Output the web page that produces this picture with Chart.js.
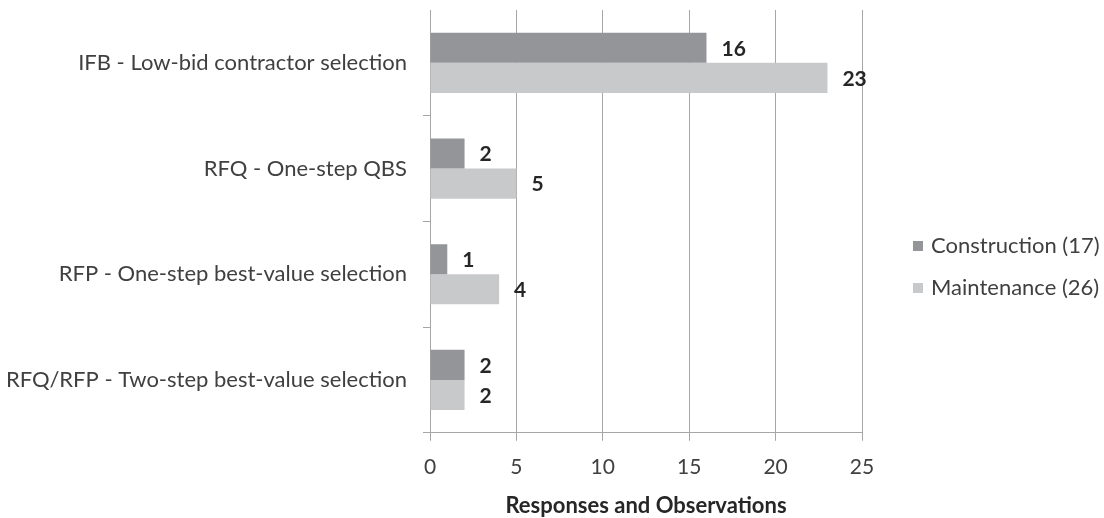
<!DOCTYPE html>
<html>
<head>
<meta charset="utf-8">
<script src="https://cdn.jsdelivr.net/npm/chart.js@4/dist/chart.umd.min.js"></script>
<style>
  html, body { margin: 0; padding: 0; background: #ffffff; }
  #wrap { width: 1104px; height: 518px; }
</style>
</head>
<body>
<div id="wrap"><canvas id="chart" width="1104" height="518"></canvas></div>
<script>
// Procurement methods and counts per project type
const categories = [
  'IFB - Low-bid contractor selection',
  'RFQ - One-step QBS',
  'RFP - One-step best-value selection',
  'RFQ/RFP - Two-step best-value selection'
];
const construction = [16, 2, 1, 2];
const maintenance = [23, 5, 4, 2];
const seriesNames = ['Construction (17)', 'Maintenance (26)'];
const seriesColors = ['#949598', '#c8c9cb'];
const xTicks = [0, 5, 10, 15, 20, 25];

const FONT = 'Lato, "Open Sans", sans-serif';
const TEXT = '#404040';
const GRID = '#a6a6a6';

// Writes each bar's value just past its end
const valueLabels = {
  id: 'valueLabels',
  afterDatasetsDraw(chart) {
    const ctx = chart.ctx;
    ctx.save();
    ctx.font = 'bold 21px ' + FONT;
    ctx.fillStyle = '#262626';
    ctx.textAlign = 'left';
    ctx.textBaseline = 'middle';
    chart.data.datasets.forEach((ds, i) => {
      chart.getDatasetMeta(i).data.forEach((bar, j) => {
        ctx.fillText(String(ds.data[j]), bar.x + 15, bar.y + 1);
      });
    });
    ctx.restore();
  }
};

// Series key to the right of the plot
const sideLegend = {
  id: 'sideLegend',
  afterDraw(chart) {
    const ctx = chart.ctx;
    const boxX = chart.chartArea.right + 51;
    const firstY = chart.height / 2 - 13;
    ctx.save();
    ctx.font = '22px ' + FONT;
    ctx.textAlign = 'left';
    ctx.textBaseline = 'middle';
    chart.data.datasets.forEach((ds, i) => {
      const y = firstY + i * 42;
      ctx.fillStyle = ds.backgroundColor;
      ctx.fillRect(boxX, y - 5, 10, 10);
      ctx.fillStyle = TEXT;
      ctx.fillText(ds.label, boxX + 18, y);
    });
    ctx.restore();
  }
};

new Chart(document.getElementById('chart'), {
  type: 'bar',
  data: {
    labels: categories,
    datasets: [
      { label: seriesNames[0], data: construction, backgroundColor: seriesColors[0] },
      { label: seriesNames[1], data: maintenance, backgroundColor: seriesColors[1] }
    ]
  },
  options: {
    indexAxis: 'y',
    responsive: false,
    animation: false,
    devicePixelRatio: 1,
    layout: { padding: { top: 10, right: 242, bottom: 1, left: 0 } },
    datasets: { bar: { categoryPercentage: 0.57, barPercentage: 1.0 } },
    scales: {
      x: {
        min: 0, max: 25,
        afterBuildTicks(axis) { axis.ticks = xTicks.map(v => ({ value: v })); },
        grid: { color: GRID, lineWidth: 1, tickLength: 8, drawTicks: true },
        border: { display: true, color: GRID },
        ticks: { color: TEXT, font: { family: FONT, size: 21 }, padding: 14 },
        title: {
          display: true, text: 'Responses and Observations', color: '#262626',
          font: { family: FONT, size: 22, weight: 'bold', lineHeight: 1 },
          padding: { top: 1, bottom: 0 }
        }
      },
      y: {
        afterFit(scale) {
          scale.width = 430;
          scale.paddingTop = 0;
          scale.paddingBottom = 0;
        },
        grid: {
          display: true, drawOnChartArea: false, tickLength: 7, offset: true,
          color: ctx => (ctx.index === 0 ? 'rgba(0,0,0,0)' : GRID)
        },
        border: { display: true, color: GRID },
        ticks: { color: TEXT, font: { family: FONT, size: 22 }, padding: 16 }
      }
    },
    plugins: {
      legend: { display: false },
      tooltip: { enabled: false }
    }
  },
  plugins: [valueLabels, sideLegend]
});
</script>
</body>
</html>
